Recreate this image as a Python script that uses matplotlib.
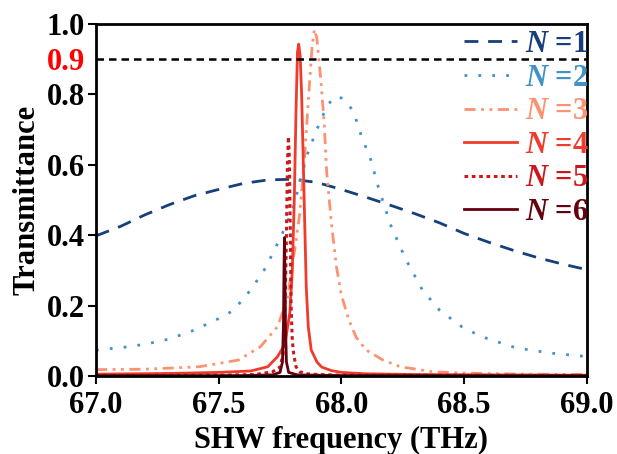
import matplotlib
matplotlib.use("Agg")
import matplotlib.pyplot as plt

plt.rcParams['font.family'] = 'Liberation Serif'
plt.rcParams['font.weight'] = 'bold'
plt.rcParams['mathtext.fontset'] = 'custom'
plt.rcParams['mathtext.it'] = 'Liberation Serif:italic:bold'
plt.rcParams['mathtext.rm'] = 'Liberation Serif:bold'

# values
x1 = [67.0, 67.1, 67.2, 67.3, 67.4, 67.5, 67.6, 67.7, 67.8, 67.9, 68.0,
      68.1, 68.2, 68.3, 68.4, 68.5, 68.6, 68.7, 68.8, 68.9, 69.0]
y1 = [0.398, 0.425, 0.458, 0.487, 0.512, 0.530, 0.547, 0.557, 0.559, 0.550, 0.530,
      0.508, 0.485, 0.461, 0.435, 0.405, 0.380, 0.357, 0.336, 0.318, 0.302]

x2 = [67.0, 67.05, 67.1, 67.2, 67.3, 67.4, 67.5, 67.56, 67.63, 67.69, 67.75, 67.8,
      67.83, 67.86, 67.9, 67.94, 67.97, 68.0, 68.03, 68.05, 68.08, 68.12, 68.15,
      68.2, 68.26, 68.33, 68.4, 68.49, 68.57, 68.71, 68.85, 69.0]
y2 = [0.073, 0.077, 0.080, 0.090, 0.105, 0.130, 0.163, 0.186, 0.244, 0.306, 0.39, 0.47,
      0.548, 0.628, 0.700, 0.765, 0.793, 0.790, 0.770, 0.750, 0.685, 0.614, 0.538,
      0.430, 0.335, 0.244, 0.187, 0.140, 0.112, 0.080, 0.065, 0.055]

x3 = [67.0, 67.2, 67.42, 67.58, 67.67, 67.74, 67.78, 67.81, 67.83, 67.85, 67.865,
      67.88, 67.89, 67.9, 67.915, 67.93, 67.94, 67.96, 67.98, 68.0, 68.03, 68.06,
      68.1, 68.17, 68.24, 68.37, 68.5, 68.75, 69.0]
y3 = [0.018, 0.019, 0.026, 0.045, 0.083, 0.14, 0.22, 0.36, 0.46, 0.62, 0.78,
      0.93, 0.985, 0.96, 0.85, 0.72, 0.58, 0.43, 0.31, 0.23, 0.16, 0.11,
      0.074, 0.045, 0.026, 0.012, 0.008, 0.005, 0.004]

x4 = [67.0, 67.3, 67.5, 67.63, 67.7, 67.74, 67.77, 67.79, 67.8, 67.808, 67.815,
      67.821, 67.826, 67.832, 67.838, 67.845, 67.85, 67.857, 67.865, 67.877, 67.9,
      67.92, 67.96, 68.0, 68.1, 68.3, 68.6, 69.0]
y4 = [0.005, 0.007, 0.010, 0.014, 0.026, 0.055, 0.09, 0.18, 0.30, 0.50, 0.75,
      0.92, 0.943, 0.91, 0.80, 0.60, 0.45, 0.25, 0.14, 0.074, 0.04,
      0.025, 0.015, 0.010, 0.006, 0.004, 0.003, 0.002]

x5 = [67.0, 67.5, 67.65, 67.72, 67.75, 67.762, 67.768, 67.775, 67.78, 67.784, 67.788,
      67.792, 67.795, 67.8, 67.806, 67.815, 67.83, 67.86, 67.9, 68.0, 69.0]
y5 = [0.001, 0.002, 0.004, 0.012, 0.025, 0.06, 0.12, 0.35, 0.60, 0.68, 0.62,
      0.40, 0.20, 0.10, 0.06, 0.026, 0.012, 0.006, 0.004, 0.002, 0.001]

x6 = [67.0, 67.6, 67.72, 67.75, 67.76, 67.764, 67.766, 67.768, 67.77, 67.772,
      67.776, 67.785, 67.82, 68.0, 69.0]
y6 = [0.0005, 0.001, 0.003, 0.01, 0.04, 0.15, 0.30, 0.393, 0.30, 0.15,
      0.04, 0.01, 0.003, 0.001, 0.0005]

labels = [r"$N$ =1", r"$N$ =2", r"$N$ =3", r"$N$ =4", r"$N$ =5", r"$N$ =6"]
colors = ['#173f7a', '#4292c6', '#fc9272', '#ef3b2c', '#cb181d', '#67000d']

fig = plt.figure(figsize=(6.17, 4.54), dpi=100)
ax = fig.add_axes([0.1556, 0.172, 0.7954, 0.775])

ax.plot(x1, y1, color=colors[0], lw=2, linestyle=(0, (5, 3.5)), label=labels[0])
ax.plot(x2, y2, color=colors[1], lw=2, linestyle=(0, (1, 4)), label=labels[1])
ax.plot(x3, y3, color=colors[2], lw=2, linestyle=(0, (4, 2, 1, 2, 1, 2)), label=labels[2])
ax.plot(x4, y4, color=colors[3], lw=2, label=labels[3])
ax.plot(x5, y5, color=colors[4], lw=2.2, linestyle=(0, (1.2, 1.2)), label=labels[4])
ax.plot(x6, y6, color=colors[5], lw=2, label=labels[5])

ax.axhline(0.9, color='black', lw=1.8, linestyle=(0, (3, 2)))

ax.set_xlim(67.0, 69.0)
ax.set_ylim(0.0, 1.0)
ax.set_xticks([67.0, 67.5, 68.0, 68.5, 69.0])
ax.set_xticklabels(['67.0', '67.5', '68.0', '68.5', '69.0'])
ax.set_yticks([0.0, 0.2, 0.4, 0.6, 0.8, 0.9, 1.0])
ax.set_yticklabels(['0.0', '0.2', '0.4', '0.6', '0.8', '0.9', '1.0'])
ax.tick_params(direction='out', length=6, width=1.5, labelsize=22)
ax.tick_params(axis='x', pad=5)
ax.tick_params(axis='y', pad=2)
ytk = ax.yaxis.get_major_ticks()[5]
ytk.tick1line.set_visible(False)
ytk.label1.set_color('red')

for s in ax.spines.values():
    s.set_linewidth(2)

ax.set_xlabel('SHW frequency (THz)', fontsize=22, fontweight='bold', labelpad=4)
ax.set_ylabel('Transmittance', fontsize=22, fontweight='bold', labelpad=4)

leg = ax.legend(loc='upper right', bbox_to_anchor=(1.004, 0.983), frameon=False,
                fontsize=22, handlelength=1.73, handletextpad=0.25, labelspacing=0.15,
                borderaxespad=0, borderpad=0)
for t, c in zip(leg.get_texts(), colors):
    t.set_color(c)

fig.savefig('out.png', dpi=100)
